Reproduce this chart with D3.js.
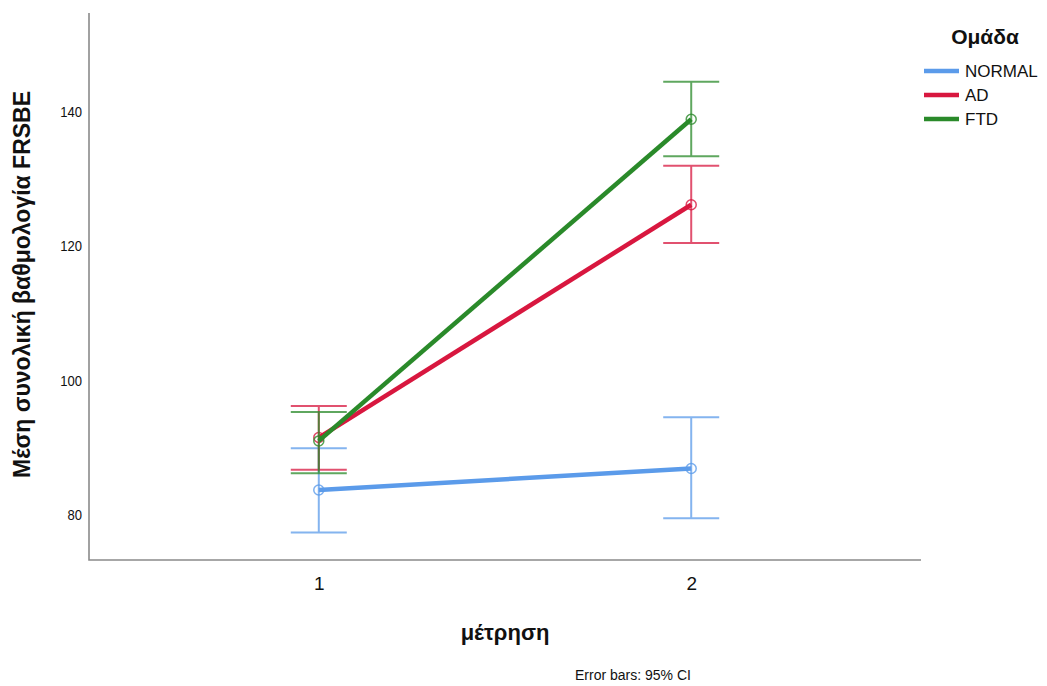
<!DOCTYPE html>
<html>
<head>
<meta charset="utf-8">
<script src="https://cdn.jsdelivr.net/npm/d3@7"></script>
<style>
  html, body { margin: 0; padding: 0; background: #fff; }
  svg text { font-family: "Liberation Sans", Arial, sans-serif; fill: #111; }
</style>
</head>
<body>
<svg id="chart" width="1047" height="686"></svg>
<script>
// Measurement occasions on the x axis
const occasions = ["1", "2"];
// Groups, in legend order
const groups = ["NORMAL", "AD", "FTD"];
const groupColors = ["#5b9bea", "#d8173f", "#2a8a2a"];
// Mean total FRSBE score per group at each occasion
const normalMean = [83.7, 86.9];
const adMean = [91.5, 126.1];
const ftdMean = [91.0, 138.8];
// 95% CI bounds
const normalLow = [77.4, 79.5];
const normalHigh = [89.9, 94.5];
const adLow = [86.7, 120.4];
const adHigh = [96.2, 131.9];
const ftdLow = [86.2, 133.3];
const ftdHigh = [95.3, 144.4];
// Y axis tick values
const yTicks = [80, 100, 120, 140];

const series = [
  { name: groups[0], color: groupColors[0], mean: normalMean, low: normalLow, high: normalHigh },
  { name: groups[1], color: groupColors[1], mean: adMean, low: adLow, high: adHigh },
  { name: groups[2], color: groupColors[2], mean: ftdMean, low: ftdLow, high: ftdHigh }
];

const svg = d3.select("#chart");
const plot = { left: 89, right: 921, top: 13, bottom: 560 };

const x = d3.scalePoint()
  .domain(occasions)
  .range([plot.left, plot.right])
  .padding(0.617);

const y = d3.scaleLinear()
  .domain([73.3, 154.6])
  .range([plot.bottom, plot.top]);

// Y axis: labels only, no tick marks
const yAxis = svg.append("g")
  .attr("transform", `translate(${plot.left},0)`)
  .call(d3.axisLeft(y).tickValues(yTicks).tickSize(0).tickPadding(7));
yAxis.select(".domain").remove();
yAxis.selectAll("text")
  .style("font-size", "15px")
  .attr("fill", "#222")
  .attr("transform", "scale(0.87,1)")
  .attr("x", -7 / 0.87);

// X axis labels
const xAxis = svg.append("g")
  .attr("transform", `translate(0,${plot.bottom})`)
  .call(d3.axisBottom(x).tickSize(0).tickPadding(17));
xAxis.select(".domain").remove();
xAxis.selectAll("text").style("font-size", "19px").attr("fill", "#222");

// Axis lines (left and bottom only)
svg.append("path")
  .attr("d", `M${plot.left},${plot.top}V${plot.bottom}H${plot.right}`)
  .attr("fill", "none")
  .attr("stroke", "#8a8a8a")
  .attr("stroke-width", 1.6);

// Axis titles
svg.append("text")
  .attr("transform", `translate(30,${(92 + 477) / 2}) rotate(-90)`)
  .attr("text-anchor", "middle")
  .style("font-size", "23px")
  .style("font-weight", "bold")
  .text("Μέση συνολική βαθμολογία FRSBE");

svg.append("text")
  .attr("x", (x("1") + x("2")) / 2)
  .attr("y", 640)
  .attr("text-anchor", "middle")
  .style("font-size", "22px")
  .style("font-weight", "bold")
  .text("μέτρηση");

svg.append("text")
  .attr("x", 575)
  .attr("y", 680)
  .style("font-size", "14px")
  .attr("fill", "#222")
  .text("Error bars: 95% CI");

const capHalf = 28;
const marks = svg.append("g");

series.forEach(s => {
  const g = marks.append("g");
  // Error bars
  const eb = g.append("g").attr("stroke", s.color).attr("stroke-width", 2).attr("opacity", 0.75).attr("fill", "none");
  occasions.forEach((o, i) => {
    const cx = x(o);
    eb.append("line").attr("x1", cx).attr("x2", cx).attr("y1", y(s.low[i])).attr("y2", y(s.high[i]));
    eb.append("line").attr("x1", cx - capHalf).attr("x2", cx + capHalf).attr("y1", y(s.low[i])).attr("y2", y(s.low[i]));
    eb.append("line").attr("x1", cx - capHalf).attr("x2", cx + capHalf).attr("y1", y(s.high[i])).attr("y2", y(s.high[i]));
  });
  // Mean line
  g.append("path")
    .datum(occasions.map((o, i) => [x(o), y(s.mean[i])]))
    .attr("d", d3.line())
    .attr("fill", "none")
    .attr("stroke", s.color)
    .attr("stroke-width", 4.5);
  // Mean markers
  g.selectAll("circle")
    .data(occasions.map((o, i) => [x(o), y(s.mean[i])]))
    .join("circle")
    .attr("cx", d => d[0])
    .attr("cy", d => d[1])
    .attr("r", 5)
    .attr("fill", "none")
    .attr("stroke", s.color)
    .attr("stroke-width", 1.5)
    .attr("opacity", 0.8);
});

// Legend
const legend = svg.append("g");
legend.append("text")
  .attr("x", 985)
  .attr("y", 44)
  .attr("text-anchor", "middle")
  .style("font-size", "21px")
  .style("font-weight", "bold")
  .text("Ομάδα");
const legendY = [71, 95, 119];
series.forEach((s, i) => {
  legend.append("line")
    .attr("x1", 924).attr("x2", 959)
    .attr("y1", legendY[i]).attr("y2", legendY[i])
    .attr("stroke", s.color)
    .attr("stroke-width", 4.5);
  legend.append("text")
    .attr("x", 965)
    .attr("y", legendY[i] + 6)
    .style("font-size", "17px")
    .attr("fill", "#222")
    .text(s.name);
});
</script>
</body>
</html>
